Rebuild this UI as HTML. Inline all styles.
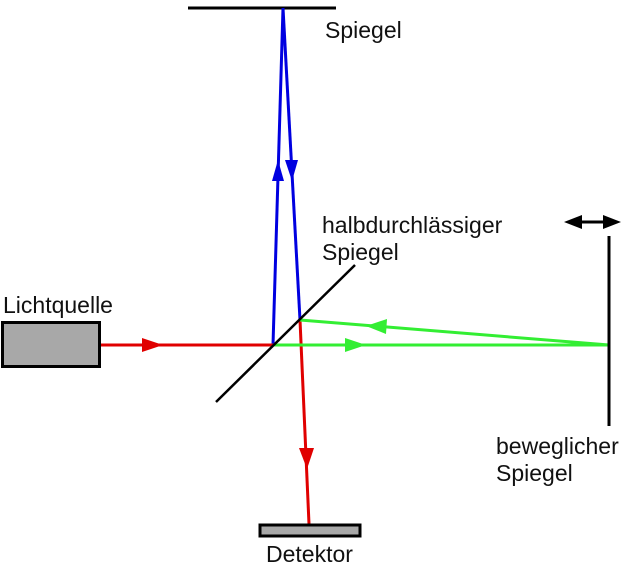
<!DOCTYPE html>
<html><head><meta charset="utf-8"><style>
html,body{margin:0;padding:0;background:#fff;}
svg{display:block}
text{font-family:"Liberation Sans",Arial,sans-serif;font-size:23px;fill:#111}
</style></head><body>
<svg width="624" height="570" viewBox="0 0 624 570" xmlns="http://www.w3.org/2000/svg">
<line x1="188" y1="8" x2="336" y2="8" stroke="#000" stroke-width="3"/>
<text x="325" y="38" font-size="23">Spiegel</text>
<line x1="273" y1="345" x2="283" y2="8" stroke="#0000e0" stroke-width="3"/>
<line x1="283" y1="8" x2="300" y2="320" stroke="#0000e0" stroke-width="3"/>
<polygon points="278,160 272,181 284,181" fill="#0000e0"/>
<polygon points="285,160 298,160 292,181" fill="#0000e0"/>
<line x1="100" y1="345" x2="273" y2="345" stroke="#e00000" stroke-width="3"/>
<polygon points="142,338 142,352 163,345" fill="#e00000"/>
<line x1="300" y1="320" x2="309" y2="524" stroke="#e00000" stroke-width="3"/>
<polygon points="299,448 314,448 307,469" fill="#e00000"/>
<line x1="273" y1="345" x2="609" y2="345" stroke="#33ee33" stroke-width="3"/>
<polygon points="345,338 345,352 366,345" fill="#33ee33"/>
<line x1="609" y1="345" x2="300" y2="320" stroke="#33ee33" stroke-width="3"/>
<polygon points="366,326 387,319 386,334" fill="#33ee33"/>
<line x1="216" y1="402" x2="355" y2="265" stroke="#000" stroke-width="2.5"/>
<text x="322" y="233" font-size="23">halbdurchlässiger</text>
<text x="322" y="260" font-size="23">Spiegel</text>
<line x1="609" y1="236" x2="609" y2="426" stroke="#000" stroke-width="3"/>
<line x1="572" y1="222" x2="614" y2="222" stroke="#000" stroke-width="3"/>
<polygon points="564,222 582,215 582,229" fill="#000"/>
<polygon points="621,222 603,215 603,229" fill="#000"/>
<text x="496" y="454" font-size="23">beweglicher</text>
<text x="496" y="481" font-size="23">Spiegel</text>
<rect x="2.5" y="322.5" width="97" height="44" fill="#a8a8a8" stroke="#000" stroke-width="3"/>
<text x="3" y="313" font-size="23">Lichtquelle</text>
<rect x="260" y="525" width="100" height="11" fill="#a8a8a8" stroke="#000" stroke-width="3"/>
<text x="266" y="562" font-size="23">Detektor</text>
</svg>
</body></html>
